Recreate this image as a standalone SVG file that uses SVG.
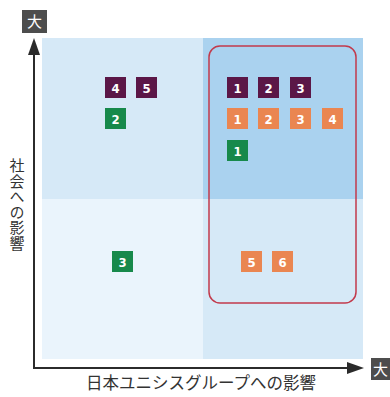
<svg xmlns="http://www.w3.org/2000/svg" width="390" height="397" viewBox="0 0 390 397">
<style>
.b{stroke:none}
.p{fill:#5b1747}
.g{fill:#17894b}
.o{fill:#ea8651}
.n{font-family:"DejaVu Sans Condensed","DejaVu Sans",sans-serif;font-weight:bold;font-size:13px;fill:#fff;text-anchor:middle}
.lab{font-family:"Noto Sans CJK JP",sans-serif;fill:#333}
.ax{stroke:#2b2b2b;stroke-width:2;fill:none}
</style>
<g id="background">
<rect x="42" y="38" width="161" height="161" fill="#d6e9f7"/>
<rect x="203" y="38" width="160" height="161" fill="#aad2ef"/>
<rect x="42" y="199" width="161" height="160" fill="#eaf4fc"/>
<rect x="203" y="199" width="160" height="160" fill="#d6e9f7"/>
</g>
<g id="connectors">
<line class="ax" x1="34" y1="369" x2="34" y2="52"/>
<polygon points="34,38 28,55 40,55" fill="#2b2b2b"/>
<line class="ax" x1="33" y1="368" x2="349" y2="368"/>
<polygon points="364,368 347,362 347,374" fill="#2b2b2b"/>
</g>
<g id="highlight">
<rect x="209" y="46" width="147" height="257" rx="11" ry="11" fill="none" stroke="#c23a4c" stroke-width="1.5"/>
</g>
<g id="axis-max-y">
<rect x="22" y="10" width="25" height="23" fill="#4d4d4d"/>
<text x="34.5" y="27" font-size="15" text-anchor="middle" fill="#fff" font-family="Noto Sans CJK JP,sans-serif">大</text>
</g>
<g id="axis-max-x">
<rect x="371" y="358" width="19" height="22" fill="#4d4d4d"/>
<text x="380.5" y="374.5" font-size="15" text-anchor="middle" fill="#fff" font-family="Noto Sans CJK JP,sans-serif">大</text>
</g>
<g id="label-y">
<text class="lab" x="17" y="158" font-size="15" style="writing-mode:vertical-rl" letter-spacing="0.5">社会への影響</text>
</g>
<g id="label-x">
<text class="lab" x="201" y="389" font-size="16.5" text-anchor="middle">日本ユニシスグループへの影響</text>
</g>
<g id="p4"><rect class="p" x="105" y="77" width="21" height="21"/><text class="n" x="115.5" y="92.5">4</text></g>
<g id="p5"><rect class="p" x="136" y="77" width="21" height="21"/><text class="n" x="146.5" y="92.5">5</text></g>
<g id="g2"><rect class="g" x="105" y="108" width="21" height="21"/><text class="n" x="115.5" y="123.5">2</text></g>
<g id="p1"><rect class="p" x="227" y="77" width="21" height="21"/><text class="n" x="237.5" y="92.5">1</text></g>
<g id="p2"><rect class="p" x="258" y="77" width="21" height="21"/><text class="n" x="268.5" y="92.5">2</text></g>
<g id="p3"><rect class="p" x="290" y="77" width="21" height="21"/><text class="n" x="300.5" y="92.5">3</text></g>
<g id="o1"><rect class="o" x="227" y="108" width="21" height="21"/><text class="n" x="237.5" y="123.5">1</text></g>
<g id="o2"><rect class="o" x="258" y="108" width="21" height="21"/><text class="n" x="268.5" y="123.5">2</text></g>
<g id="o3"><rect class="o" x="290" y="108" width="21" height="21"/><text class="n" x="300.5" y="123.5">3</text></g>
<g id="o4"><rect class="o" x="322" y="108" width="21" height="21"/><text class="n" x="332.5" y="123.5">4</text></g>
<g id="g1"><rect class="g" x="227" y="140" width="21" height="21"/><text class="n" x="237.5" y="155.5">1</text></g>
<g id="g3"><rect class="g" x="112" y="251" width="21" height="21"/><text class="n" x="122.5" y="266.5">3</text></g>
<g id="o5"><rect class="o" x="241" y="251" width="21" height="21"/><text class="n" x="251.5" y="266.5">5</text></g>
<g id="o6"><rect class="o" x="272" y="251" width="21" height="21"/><text class="n" x="282.5" y="266.5">6</text></g>
</svg>
